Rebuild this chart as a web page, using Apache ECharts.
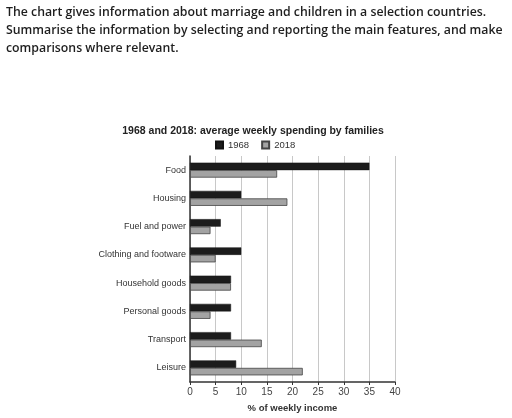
<!DOCTYPE html>
<html><head><meta charset="utf-8">
<script src="https://cdn.jsdelivr.net/npm/echarts@6/dist/echarts.min.js"></script>
<style>html,body{margin:0;padding:0;background:#fff}#c{width:512px;height:418px}</style>
</head><body><div id="c"></div>
<script>
const categories = ['Food','Housing','Fuel and power','Clothing and footware','Household goods','Personal goods','Transport','Leisure'];
const values1968 = [35,10,6,10,8,8,8,9];
const values2018 = [17,19,4,5,8,4,14,22];
const seriesNames = ['1968','2018'];
const introLines = [
  'The chart gives information about marriage and children in a selection countries.',
  'Summarise the information by selecting and reporting the main features, and make',
  'comparisons where relevant.'
];
const chart = echarts.init(document.getElementById('c'));
chart.setOption({
  animation:false,
  backgroundColor:'#fff',
  title:{text:'1968 and 2018: average weekly spending by families',left:248,textAlign:'center',top:121,
    textStyle:{fontFamily:'Liberation Sans',fontWeight:'bold',fontSize:10.5,color:'#222'}},
  graphic: introLines.map((t,i)=>({type:'text',left:6,top:6+i*18.3,
    style:{text:t,font:'600 12.3px "Open Sans"',fill:'#1e1e1e'}})),
  legend:{top:135,left:210,itemWidth:7,itemHeight:7,itemGap:12,icon:'rect',
    textStyle:{fontFamily:'Liberation Sans',fontSize:9.5,color:'#333'},data:seriesNames},
  grid:{left:190,right:117,top:156,bottom:36,containLabel:false},
  xAxis:{type:'value',min:0,max:40,interval:5,
    name:'% of weekly income',nameLocation:'middle',nameGap:21,
    nameTextStyle:{fontFamily:'Liberation Sans',fontWeight:'bold',fontSize:9.5,color:'#333'},
    axisLine:{show:true,lineStyle:{color:'#333',width:1.5}},
    axisTick:{show:true,length:3,lineStyle:{color:'#333'}},
    axisLabel:{fontFamily:'Liberation Sans',fontSize:10,color:'#444',margin:5},
    splitLine:{show:true,lineStyle:{color:'#c8c8c8',width:1}}},
  yAxis:{type:'category',data:categories,inverse:true,
    axisLine:{show:true,lineStyle:{color:'#333',width:1.5}},
    axisTick:{show:false},
    axisLabel:{fontFamily:'Liberation Sans',fontSize:9,color:'#333',margin:4}},
  series:[
    {name:seriesNames[0],type:'bar',data:values1968,barWidth:7.5,barGap:'0%',
      itemStyle:{color:'#1c1c1c',borderColor:'#111',borderWidth:0.5}},
    {name:seriesNames[1],type:'bar',data:values2018,barWidth:7.5,barGap:'0%',
      itemStyle:{color:'#a3a3a3',borderColor:'#444',borderWidth:0.8}}
  ]
});
</script></body></html>
